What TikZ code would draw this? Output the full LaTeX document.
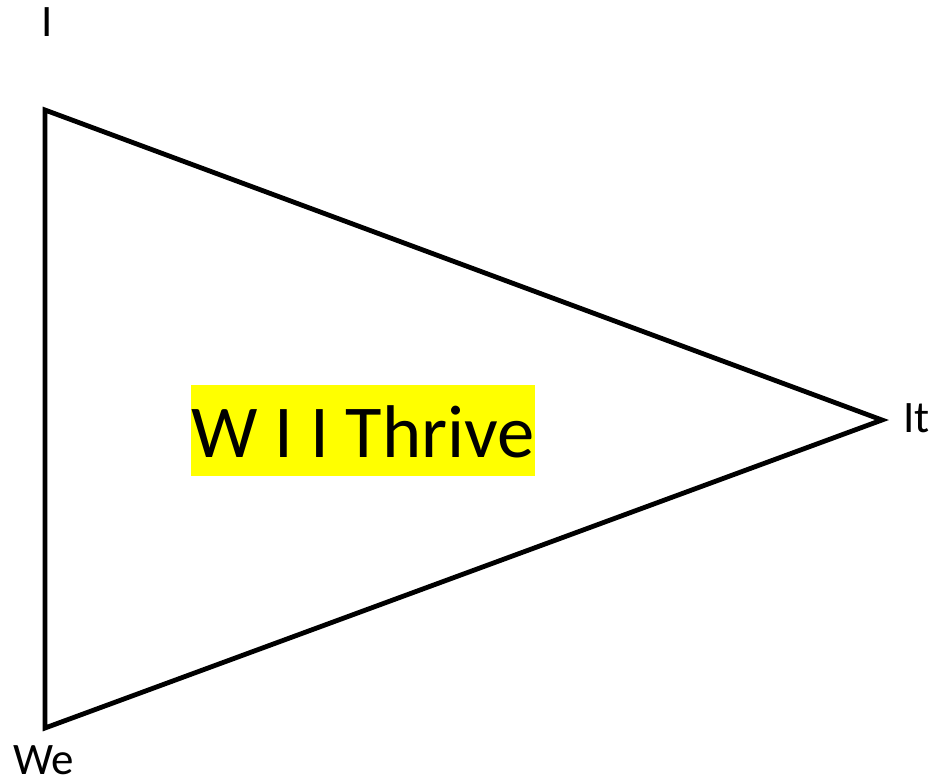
\documentclass[tikz,border=0pt]{standalone}
\usepackage{fontspec}
\setmainfont{Carlito}
\usepackage{tikz}
\usepackage{xcolor}
\usetikzlibrary{positioning,calc}
\definecolor{ink}{HTML}{000000}
\definecolor{marker}{HTML}{FFFF00}
\tikzset{
  corner/.style={font=\fontsize{33.75pt}{40pt}\selectfont,text=ink,inner sep=0pt},
  edge/.style={draw=ink,line width=3.6pt,line join=miter},
  hilite/.style={fill=marker,inner xsep=0.5pt,inner ysep=0pt,
                 text height=54pt,text depth=14.25pt,
                 font=\fontsize{56pt}{67pt}\selectfont}
}

\begin{document}
\begin{tikzpicture}[x=0.75pt,y=-0.75pt]
  \useasboundingbox (0,0) rectangle (930,783);
  % triangle corners
  \coordinate (top) at (45,110);
  \coordinate (tip) at (882,420);
  \coordinate (bot) at (45,728);
  \draw[edge] (top) -- (tip) -- (bot) -- cycle;

  % corner labels
  \node[corner,anchor=base] (lblI) at (47,36) {I};
  \node[corner,anchor=base west] (lblIt) at (903,432) {It};
  \node[corner,anchor=base west] (lblWe) at (13,774) {We};

  % centre text
  \node[hilite,anchor=base] (thrive) at (363,457) {W I I Thrive};
\end{tikzpicture}
\end{document}
